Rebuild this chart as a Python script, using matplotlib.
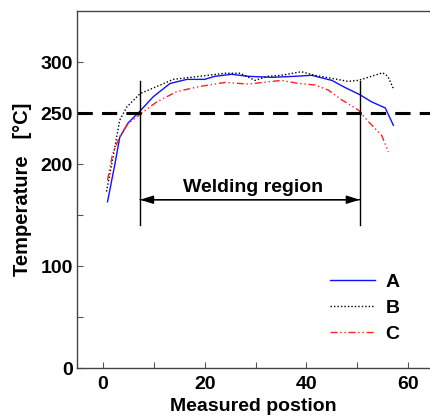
import matplotlib
matplotlib.use("Agg")
import matplotlib.pyplot as plt
import numpy as np

plt.rcParams['font.family'] = ['Liberation Sans', 'DejaVu Sans']

# Data
xa = [0.9, 2.4, 3.3, 4.9, 7.3, 9.9, 13.2, 16.5, 20, 22, 25.3, 28.5, 33.2, 37.8, 41, 45, 47.6, 50.5, 52.8, 55.5, 57.1]
ya = [163, 201, 226, 240, 252, 266, 279, 283, 283, 286, 288, 286, 285, 286, 287, 282, 275, 268, 261, 255, 238]

xb = [0.7, 2.0, 3.3, 4.7, 7.3, 10.6, 13.8, 19, 24, 27, 29.9, 32.4, 35.1, 39, 41.7, 45, 48.2, 50.2, 52.8, 55, 56, 57.1]
yb = [173, 207, 243, 256, 269, 276, 283, 286, 289, 289, 282, 286, 287, 290.5, 287, 284, 281, 282, 286, 289.5, 286, 274]

xc = [0.9, 1.9, 3.3, 5.0, 7.3, 10.6, 14.5, 19, 24, 28.6, 35.1, 38.4, 41.7, 44.3, 46.9, 50.2, 52.2, 54.8, 56.1]
yc = [184, 210, 227, 240, 248.7, 261, 271, 276, 280, 278.4, 282, 279, 277.5, 272.5, 263, 253, 241.5, 228, 212]

labels = ['A', 'B', 'C']
threshold = 250
region = [7.3, 50.5]

fig = plt.figure(figsize=(4.30, 4.18), dpi=100)
ax = fig.add_axes([0.179, 0.1196, 0.821, 0.854])

ax.plot(xa, ya, color='#1010ff', lw=1.0, label=labels[0])
ax.plot(xb, yb, color='black', lw=1.0, ls=(0, (1, 1.5)), label=labels[1])
ax.plot(xc, yc, color='#ff2020', lw=1.0, ls=(0, (5, 2, 1, 2, 1, 2)), label=labels[2])

ax.axhline(threshold, color='black', lw=2.2, ls=(0, (5, 3)))
for xv in region:
    ax.plot([xv, xv], [140, 281], color='black', lw=1.0)
ax.annotate('', xy=(region[0], 165), xytext=(region[1], 165),
            arrowprops=dict(arrowstyle='-|>,head_length=0.8,head_width=0.25', color='black', lw=1.0,
                            shrinkA=0, shrinkB=0))
ax.annotate('', xy=(region[1], 165), xytext=(region[0], 165),
            arrowprops=dict(arrowstyle='-|>,head_length=0.8,head_width=0.25', color='black', lw=1.0,
                            shrinkA=0, shrinkB=0))
ax.text(29.5, 177, 'Welding region', ha='center', va='center', fontsize=14, fontweight='bold')

ax.set_xlim(-5.1, 64.3)
ax.set_ylim(0, 350)
ax.set_xticks([0, 20, 40, 60])
ax.set_xticks([10, 30, 50], minor=True)
ax.set_yticks([0, 100, 200, 250, 300])
ax.set_yticks([50, 150], minor=True)
ax.tick_params(which='both', direction='in', length=4, width=0.8, color='#555555')
ax.tick_params(axis='y', labelsize=14, pad=3)
ax.tick_params(axis='x', labelsize=14, pad=6)
for lab in ax.get_xticklabels() + ax.get_yticklabels():
    lab.set_fontweight('bold')
ax.spines['right'].set_visible(False)
for s in ['left', 'bottom', 'top']:
    ax.spines[s].set_color('#444444')
    ax.spines[s].set_linewidth(1.0)

ax.set_xlabel('Measured postion', fontsize=14, fontweight='bold', labelpad=3)
ax.set_ylabel('Temperature   [°C]', fontsize=14.5, fontweight='bold', labelpad=6)

leg = ax.legend(loc='upper left', bbox_to_anchor=(0.717, 0.266), frameon=False,
                prop={'size': 14, 'weight': 'bold'}, handlelength=2.3,
                labelspacing=0.43, handletextpad=0.55, borderpad=0, borderaxespad=0)

fig.savefig('out.png', dpi=100)
